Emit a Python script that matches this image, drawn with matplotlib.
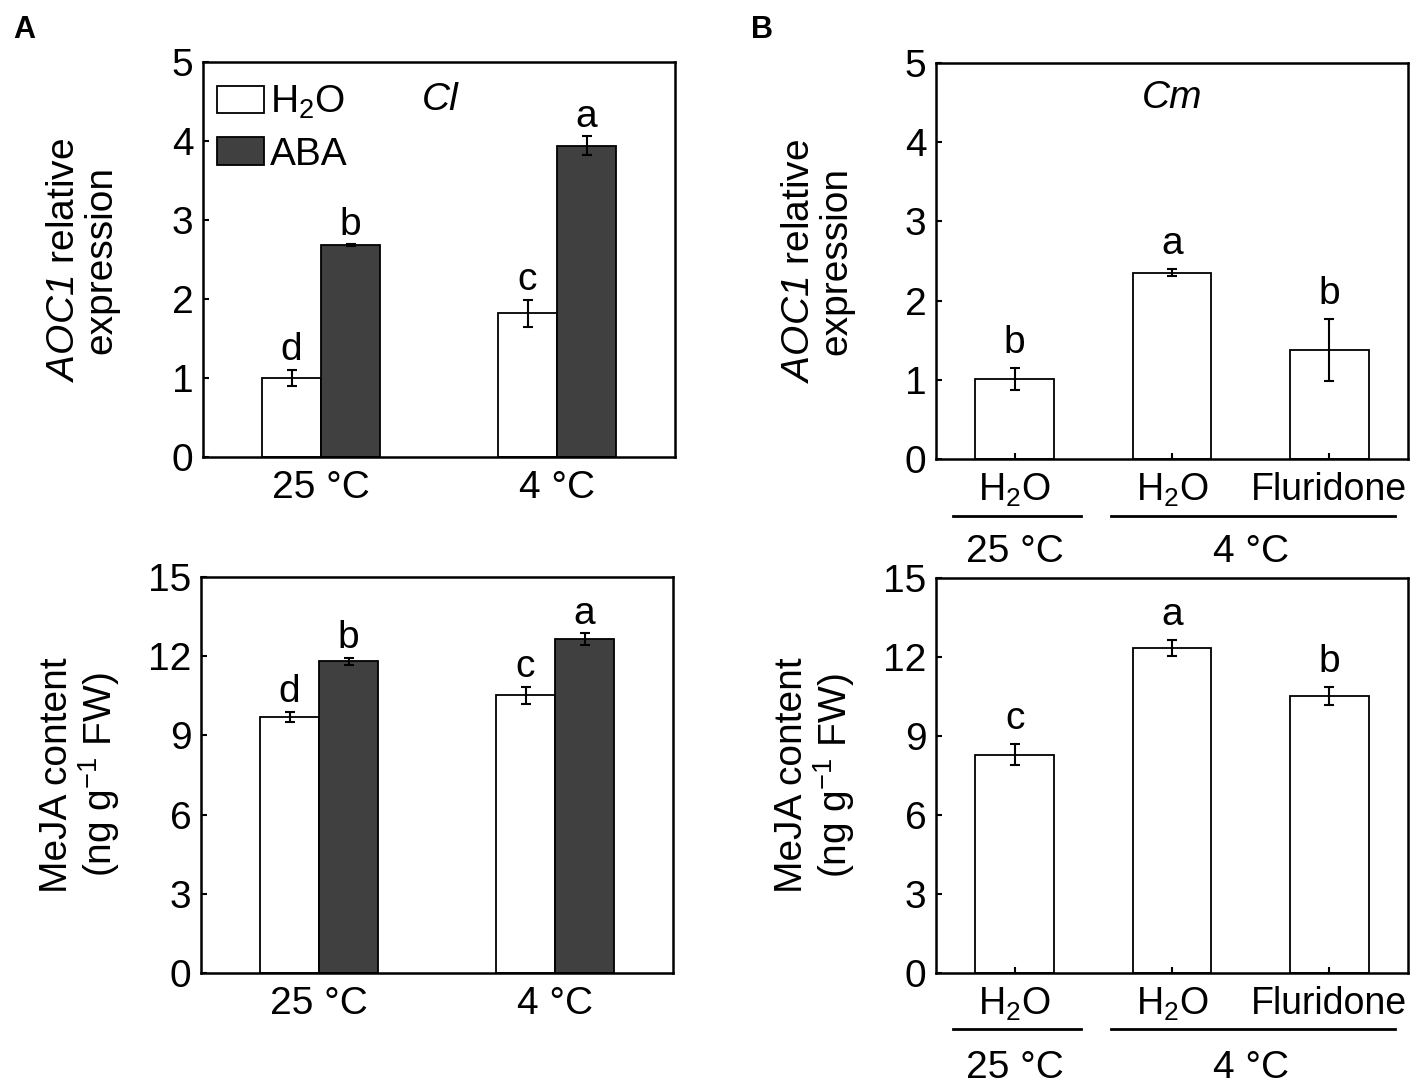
import matplotlib
matplotlib.use('Agg')
import matplotlib.pyplot as plt
import numpy as np
from matplotlib.patches import Patch

plt.rcParams['font.family'] = ['Liberation Sans', 'DejaVu Sans']
plt.rcParams['mathtext.fontset'] = 'custom'
plt.rcParams['mathtext.rm'] = 'Liberation Sans'
plt.rcParams['mathtext.it'] = 'Liberation Sans:italic'
# sf slot used for fully italic gene names (digits included)
plt.rcParams['mathtext.sf'] = 'Liberation Sans:italic'

# panel A: Cl, H2O vs ABA at two temperatures
temps = ['25 °C', '4 °C']
aoc1_h2o = [1.00, 1.82]
aoc1_h2o_err = [0.10, 0.17]
aoc1_aba = [2.68, 3.94]
aoc1_aba_err = [0.01, 0.12]
aoc1_h2o_letters = ['d', 'c']
aoc1_aba_letters = ['b', 'a']

meja_h2o = [9.70, 10.52]
meja_h2o_err = [0.20, 0.32]
meja_aba = [11.80, 12.65]
meja_aba_err = [0.15, 0.21]
meja_h2o_letters = ['d', 'c']
meja_aba_letters = ['b', 'a']

# panel B: Cm, treatments
treatments = ['H$_2$O', 'H$_2$O', 'Fluridone']
groups = ['25 °C', '4 °C']
group_members = [[0], [1, 2]]
aoc1_cm = [1.01, 2.35, 1.38]
aoc1_cm_err = [0.14, 0.045, 0.39]
aoc1_cm_letters = ['b', 'a', 'b']
meja_cm = [8.29, 12.34, 10.51]
meja_cm_err = [0.40, 0.30, 0.34]
meja_cm_letters = ['c', 'a', 'b']

W, H = 1421, 1083
fig = plt.figure(figsize=(W / 100, H / 100), dpi=100)

DARK = '#404040'
FS = 28
err_kw = dict(elinewidth=1.5, capsize=3.5, capthick=1.5, ecolor='black')
AOC1_LABEL = r'$\mathsf{AOC1}$ relative' + '\nexpression'
MEJA_LABEL = 'MeJA content\n(ng g$^{-1}$ FW)'


def px_axes(left, top, right, bottom):
    return fig.add_axes([left / W, 1 - bottom / H, (right - left) / W, (bottom - top) / H])


def style(ax):
    for s in ax.spines.values():
        s.set_linewidth(1.8)
    ax.tick_params(direction='in', length=4.5, width=1.5, labelsize=FS, pad=7)


def letters(ax, xs, vals, errs, labs, off):
    for x, v, e, t in zip(xs, vals, errs, labs):
        ax.annotate(t, (x, v + e), xytext=(0, off), textcoords='offset points',
                    ha='center', va='baseline', fontsize=FS)


def ylabel(ax, text, xfrac):
    ax.set_ylabel(text, fontsize=FS, linespacing=1.05, ha='center', va='center')
    ax.yaxis.set_label_coords(xfrac, 0.5)


# ---- A top
ax = px_axes(203, 62, 675, 457)
x = np.arange(len(temps))
w = 0.25
ax.bar(x - w / 2, aoc1_h2o, w, yerr=aoc1_h2o_err, color='white', edgecolor='black',
       linewidth=1.3, error_kw=err_kw)
ax.bar(x + w / 2, aoc1_aba, w, yerr=aoc1_aba_err, color=DARK, edgecolor='black',
       linewidth=1.3, error_kw=err_kw)
letters(ax, x - w / 2, aoc1_h2o, aoc1_h2o_err, aoc1_h2o_letters, 7)
letters(ax, x + w / 2, aoc1_aba, aoc1_aba_err, aoc1_aba_letters, 7)
ax.set_xlim(-0.5, 1.5)
ax.set_ylim(0, 5)
ax.set_yticks(range(6))
ax.set_xticks(x)
ax.set_xticklabels(temps)
style(ax)
ax.tick_params(axis='x', length=0, pad=9)
ylabel(ax, AOC1_LABEL, -0.255)
ax.legend(handles=[Patch(facecolor='white', edgecolor='black', linewidth=1.3, label='H$_2$O'),
                   Patch(facecolor=DARK, edgecolor='black', linewidth=1.3, label='ABA')],
          loc='upper left', bbox_to_anchor=(0.03, 0.945), frameon=False, fontsize=FS,
          handlelength=1.2, handleheight=0.7, handletextpad=0.15, labelspacing=0.4,
          borderpad=0, borderaxespad=0)
ax.text(0.502, 0.904, 'Cl', style='italic', fontsize=FS, ha='center', va='center',
        transform=ax.transAxes)

# ---- A bottom
ax = px_axes(201, 577, 673, 973)
ax.bar(x - w / 2, meja_h2o, w, yerr=meja_h2o_err, color='white', edgecolor='black',
       linewidth=1.3, error_kw=err_kw)
ax.bar(x + w / 2, meja_aba, w, yerr=meja_aba_err, color=DARK, edgecolor='black',
       linewidth=1.3, error_kw=err_kw)
letters(ax, x - w / 2, meja_h2o, meja_h2o_err, meja_h2o_letters, 7)
letters(ax, x + w / 2, meja_aba, meja_aba_err, meja_aba_letters, 7)
ax.set_xlim(-0.5, 1.5)
ax.set_ylim(0, 15)
ax.set_yticks(range(0, 16, 3))
ax.set_xticks(x)
ax.set_xticklabels(temps)
style(ax)
ax.tick_params(axis='x', length=0, pad=9)
ylabel(ax, MEJA_LABEL, -0.255)


def group_lines(ax, yline, ytext):
    for g, members in zip(groups, group_members):
        x0, x1 = members[0] - 0.39, members[-1] + 0.42
        ax.plot([x0, x1], [yline, yline], color='black', lw=2,
                transform=ax.get_xaxis_transform(), clip_on=False)
        ax.text((members[0] + members[-1]) / 2, ytext, g, fontsize=FS,
                ha='center', va='center', transform=ax.get_xaxis_transform())


xb = np.arange(len(treatments))
wb = 0.5

# ---- B top
ax = px_axes(936, 63, 1408, 459)
ax.bar(xb, aoc1_cm, wb, yerr=aoc1_cm_err, color='white', edgecolor='black',
       linewidth=1.3, error_kw=err_kw)
letters(ax, xb, aoc1_cm, aoc1_cm_err, aoc1_cm_letters, 11)
ax.set_xlim(-0.5, 2.5)
ax.set_ylim(0, 5)
ax.set_yticks(range(6))
ax.set_xticks(xb)
ax.set_xticklabels(treatments)
style(ax)
ax.tick_params(axis='x', labelsize=27, pad=9)
ylabel(ax, AOC1_LABEL, -0.25)
ax.text(0.5, 0.912, 'Cm', style='italic', fontsize=FS, ha='center', va='center',
        transform=ax.transAxes)
group_lines(ax, -0.144, -0.235)

# ---- B bottom
ax = px_axes(936, 578, 1408, 973)
ax.bar(xb, meja_cm, wb, yerr=meja_cm_err, color='white', edgecolor='black',
       linewidth=1.3, error_kw=err_kw)
letters(ax, xb, meja_cm, meja_cm_err, meja_cm_letters, 11)
ax.set_xlim(-0.5, 2.5)
ax.set_ylim(0, 15)
ax.set_yticks(range(0, 16, 3))
ax.set_xticks(xb)
ax.set_xticklabels(treatments)
style(ax)
ax.tick_params(axis='x', labelsize=27, pad=9)
ylabel(ax, MEJA_LABEL, -0.255)
group_lines(ax, -0.142, -0.24)

fig.text(24 / W, 1 - 30 / H, 'A', fontsize=22, weight='bold', ha='center', va='center')
fig.text(762 / W, 1 - 30 / H, 'B', fontsize=22, weight='bold', ha='center', va='center')

fig.savefig('out.png', dpi=100, facecolor='white')
